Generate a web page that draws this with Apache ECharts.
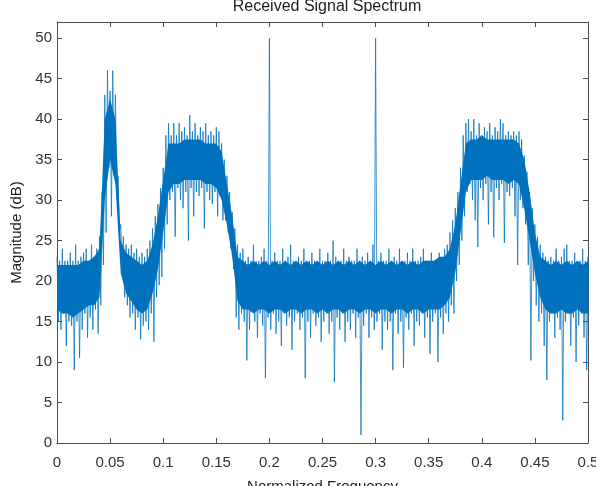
<!DOCTYPE html>
<html>
<head>
<meta charset="utf-8">
<script src="https://cdn.jsdelivr.net/npm/echarts@6/dist/echarts.min.js"></script>
<style>
  html, body { margin: 0; padding: 0; background: #fff; }
  #chartDom { width: 596px; height: 486px; }
</style>
</head>
<body>
<div id="chartDom"></div>
<script>
// spectrum: one bin every 0.0025, upper and lower tips of the trace
var binStep = 0.0025;
var upperDb = [
  23, 22.5, 24, 22.5, 22.5, 23.5, 22.5, 24.5, 22.5, 23,
  23.5, 24, 22.5, 24.5, 23, 24, 25.5, 31, 43, 46,
  43.5, 46, 43, 33, 27, 25.5, 24.5, 24, 24.5, 23.5,
  24, 23, 23.5, 23, 24, 25, 26.5, 28, 29.5, 31.5,
  34, 38, 39.5, 38, 39.5, 38, 39.5, 38.5, 39, 38,
  40.5, 38.5, 39.5, 38, 39, 38.5, 39.5, 38, 38.5, 38,
  39, 38.5, 37, 35, 33, 31, 28.5, 26.5, 24.5, 23.5,
  24, 22.5, 23, 22.5, 24.5, 22.5, 22.5, 23, 24, 22.5,
  50, 22.5, 23.5, 22.5, 22.5, 24, 22.5, 23, 24.5, 22.5,
  22.5, 23, 22.5, 24, 22.5, 22.5, 23.5, 22.5, 22.5, 24,
  22.5, 22.5, 23.5, 22.5, 25, 23, 22.5, 22.5, 24, 22.5,
  23, 22.5, 22.5, 24, 22.5, 23, 22.5, 23.5, 22.5, 24.5,
  50, 22.5, 23.5, 22.5, 22.5, 24, 22.5, 23, 22.5, 24,
  22.5, 22.5, 23.5, 22.5, 24, 22.5, 22.5, 23, 24, 22.5,
  22.5, 23.5, 22.5, 22.5, 23.5, 23, 24, 24.5, 26, 27.5,
  29, 31, 34, 38, 39.5, 40, 38.5, 40, 38, 39.5,
  38, 39, 38.5, 39.5, 38, 39, 38.5, 40, 39.5, 38,
  38.5, 38, 38.5, 38, 38.5, 37.5, 35.5, 33.5, 31, 29,
  27, 25.5, 24.5, 23.5, 23, 22.5, 23, 22.5, 24, 22.5,
  23, 24, 24.5, 22.5, 22.5, 23.5, 22.5, 22.5, 24, 22.5,
  23
];
var lowerDb = [
  15, 14, 16, 12, 15, 14.5, 9, 15, 10.5, 14,
  16, 13, 15.5, 14, 16.5, 13.5, 17, 22, 26, 34,
  28, 33, 31, 26, 22, 18, 17, 15.5, 16, 14,
  15.5, 12.8, 14.5, 15, 14, 16, 12.5, 18, 19.5, 20.5,
  24, 27, 30, 31, 25.5, 31.5, 30, 29, 31, 25,
  31.5, 28, 31, 30.5, 31.5, 26.5, 31, 30, 29.5, 31,
  28, 30.5, 27.5, 27.5, 26, 24, 21.5, 15.5, 14, 16,
  15, 10.2, 14, 16.5, 15, 13, 16, 14.5, 8, 15.5,
  14, 16, 13.5, 15, 12, 16, 14.5, 15.5, 11.5, 15,
  16, 14, 15.5, 8, 15, 13, 16, 14.5, 15.5, 12.5,
  15, 16, 13.5, 15, 7.5, 15.5, 14, 16, 12.5, 15,
  14, 16, 13, 15.5, 1, 14.5, 16, 13, 15.5, 14,
  15, 16, 11.5, 15, 14, 15, 9, 16, 13.5, 15,
  9.3, 15.5, 14, 16, 12, 15, 14.5, 16, 13, 15.5,
  11, 15, 16, 10, 15.5, 13.5, 16, 15, 17, 16,
  20, 22, 25, 28, 31, 32, 30, 27.5, 24.2, 31.5,
  30, 32, 27, 31, 25.4, 31.5, 30, 32, 24.7, 31,
  30.5, 31.5, 28, 22, 30, 29, 27, 22, 10.2, 20,
  17, 15, 16, 12, 7.8, 15, 16, 13, 15.5, 14,
  2.8, 15, 16, 12, 15.5, 10, 14.5, 16, 13, 9,
  15
];

// the solid dark core of the trace, one value every 0.005
var coreStep = 0.005;
var coreLowDb = [
  16.5, 16, 16, 15.5, 16, 16.5, 17, 17, 18, 30,
  35, 32, 21, 18.5, 17.5, 16.5, 16, 16.5, 18.5, 21.5,
  26, 31, 32, 32, 32.5, 32.5, 32.5, 32.5, 32, 32,
  31.5, 30, 27, 23, 17.5, 16.5, 16.5, 16, 16.5, 16.5,
  16, 16.5, 16.5, 16, 16.5, 16.5, 16, 16.5, 16.5, 16,
  16.5, 16, 16.5, 16.5, 16, 16.5, 16.5, 16, 16.5, 16.5,
  16, 16.5, 16.5, 16, 16.5, 16.5, 16, 16.5, 16.5, 16,
  16.5, 16.5, 16.5, 17, 18, 21, 26, 31, 32.5, 32.5,
  32.5, 33, 32.5, 32.5, 32.5, 32, 32.5, 32, 29, 25,
  21, 18, 16.5, 16, 16, 16.5, 16, 16, 16.5, 16,
  16
];
var coreHighDb = [
  22, 22, 22, 22, 22, 22.5, 22.5, 23, 24, 40,
  42.5, 40, 25, 23.5, 23, 22.5, 22, 22.5, 24.5, 28,
  32.5, 37, 37, 37, 37.5, 37.5, 37.5, 37.5, 37, 37,
  37, 36, 32, 28, 23, 22.5, 22, 22.5, 22, 22.5,
  22, 22.5, 22, 22.5, 22, 22.5, 22, 22.5, 22, 22.5,
  22, 22.5, 22, 22.5, 22, 22.5, 22, 22.5, 22, 22.5,
  22, 22.5, 22, 22.5, 22, 22.5, 22, 22.5, 22, 22.5,
  22.5, 22.5, 23, 23, 24, 27, 32, 37, 37.5, 37.5,
  38, 37.5, 37.5, 37.5, 37.5, 37.5, 37.5, 37, 35, 31,
  26, 23, 22.5, 22, 22.5, 22, 22.5, 22, 22.5, 22,
  22.5
];

// zigzag between the tips so the spikes poke out of the core like in the fft plot
var spectrum = [];
upperDb.forEach(function (v, i) {
    var f = i * binStep;
    spectrum.push([f, v]);
    spectrum.push([f + binStep / 2, lowerDb[i]]);
});

var myChart = echarts.init(document.getElementById('chartDom'));

var axisColor = '#4d4d4d';
var labelFont = { fontFamily: 'Liberation Sans', fontSize: 15, color: '#333' };
var blue = '#0072BD';

function frameAxis(extra) {
    return Object.assign({
        type: 'value',
        axisLine: { show: true, onZero: false, lineStyle: { color: axisColor } },
        axisTick: { inside: true, length: 5, lineStyle: { color: axisColor } },
        splitLine: { show: false }
    }, extra);
}

// core band as one polygon, placed through the axes
function renderCore(params, api) {
    var pts = [];
    coreHighDb.forEach(function (v, i) { pts.push(api.coord([i * coreStep, v])); });
    for (var i = coreLowDb.length - 1; i >= 0; i--) {
        pts.push(api.coord([i * coreStep, coreLowDb[i]]));
    }
    return { type: 'polygon', shape: { points: pts }, style: { fill: blue } };
}

var option = {
    animation: false,
    backgroundColor: '#fff',
    title: {
        text: 'Received Signal Spectrum',
        left: 322,
        top: -6,
        textAlign: 'center',
        textStyle: { fontFamily: 'Liberation Sans', fontSize: 16, fontWeight: 'normal', color: '#222' }
    },
    grid: { left: 57, right: 8, top: 22, bottom: 43, outerBoundsMode: 'none', containLabel: false },
    xAxis: [
        frameAxis({
            position: 'bottom', min: 0, max: 0.5, interval: 0.05,
            name: 'Normalized Frequency', nameLocation: 'middle', nameGap: 36,
            nameTextStyle: { fontFamily: 'Liberation Sans', fontSize: 15, color: '#222' },
            axisLabel: Object.assign({ margin: 12, formatter: function (v) { return String(+v.toFixed(2)); } }, labelFont)
        }),
        frameAxis({ position: 'top', min: 0, max: 0.5, interval: 0.05, axisLabel: { show: false } })
    ],
    yAxis: [
        frameAxis({
            position: 'left', min: 0, max: 52, interval: 5,
            name: 'Magnitude (dB)', nameLocation: 'middle', nameGap: 32,
            nameTextStyle: { fontFamily: 'Liberation Sans', fontSize: 15, color: '#222' },
            axisLabel: Object.assign({ margin: 5, formatter: function (v) { return v % 5 === 0 ? String(v) : ''; } }, labelFont)
        }),
        frameAxis({ position: 'right', min: 0, max: 52, interval: 5, axisLabel: { show: false } })
    ],
    series: [{
        type: 'custom',
        data: [[0, 0]],
        renderItem: renderCore,
        silent: true,
        clip: true
    }, {
        type: 'line', data: spectrum,
        showSymbol: false, sampling: null,
        lineStyle: { width: 1, color: blue, opacity: 0.75 },
        itemStyle: { color: blue }
    }]
};

myChart.setOption(option);
</script>
</body>
</html>
